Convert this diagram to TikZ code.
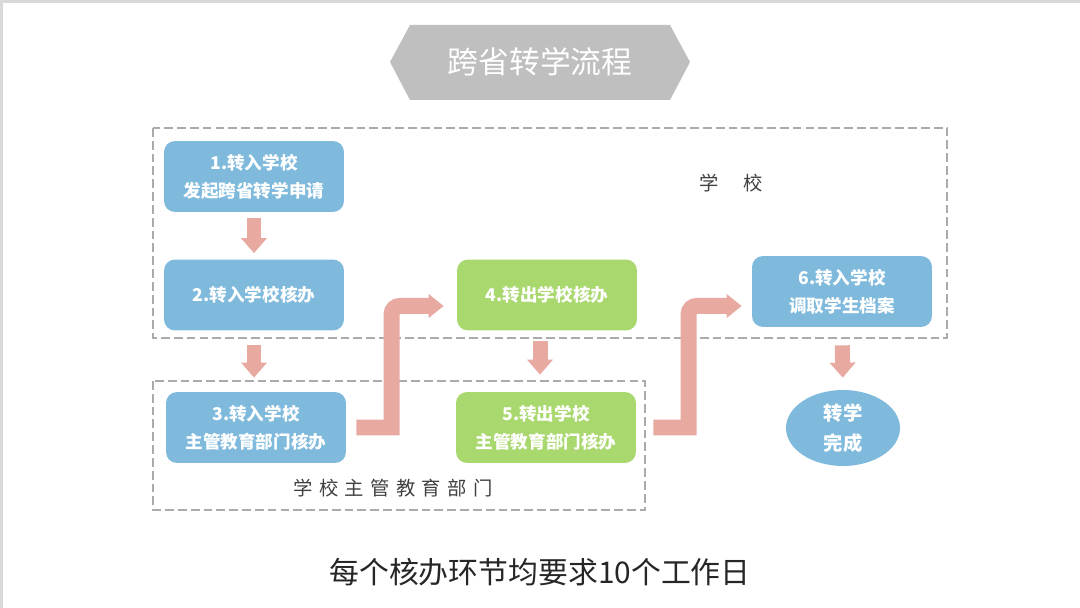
\documentclass[tikz,border=0pt]{standalone}
\usepackage{fontspec}
\setmainfont{Noto Sans CJK SC}
\newfontfamily\widecjk[LetterSpace=33]{Noto Sans CJK SC}
\usetikzlibrary{arrows.meta,shapes.geometric}
\definecolor{stepblue}{HTML}{7FBADD}
\definecolor{stepgreen}{HTML}{A9D86E}
\definecolor{flowpink}{HTML}{E8A9A1}
\definecolor{titlegray}{HTML}{BFBFBF}
\definecolor{dashgray}{HTML}{ABABAB}
\tikzset{
  stepbox/.style={rounded corners=0.22cm,minimum width=3.6cm,minimum height=1.42cm,
    inner sep=0pt,align=center,text=white,font=\bfseries\fontsize{10}{16}\selectfont},
  bluebox/.style={stepbox,fill=stepblue},
  greenbox/.style={stepbox,fill=stepgreen},
  down arrow/.style={draw=flowpink,line width=0.3cm,-{Triangle[width=0.5cm,length=0.3cm]}},
  turn arrow/.style={draw=flowpink,line width=0.32cm,
    -{Triangle[width=0.46cm,length=0.3cm]}},
  groupbox/.style={draw=dashgray,line width=1.1pt,dash pattern=on 5pt off 2.3pt}
}
\begin{document}
\begin{tikzpicture}[x=0.02cm,y=-0.02cm]
 \useasboundingbox (0,0) rectangle (1080,608);
 \draw[line width=3pt,color=black!15](0,608)--(0,0)--(1080,0);
 % title
 \fill[titlegray](390,62)--(410,25)--(670,25)--(690,62)--(670,100)--(410,100)--cycle;
 \node[text=white,font=\fontsize{17.5}{20}\selectfont] (title) at (540,62) {跨省转学流程};
 % groups
 \draw[groupbox](153,128) rectangle (947,338);
 \draw[groupbox](153,381) rectangle (645,510);
 \node[text=black!75,font=\fontsize{11}{13}\selectfont] (schoollbl) at (731,183) {学\hspace{1.25em}校};
 \node[text=black!75,font=\widecjk\fontsize{11}{13}\selectfont] (deptlbl) at (393,488) {学校主管教育部门};
 % steps
 \node[bluebox] (b1) at (254,176.5) {1.转入学校\\发起跨省转学申请};
 \node[bluebox] (b2) at (254,295) {2.转入学校核办};
 \node[bluebox] (b3) at (256,427.5) {3.转入学校\\主管教育部门核办};
 \node[greenbox] (b4) at (547,295) {4.转出学校核办};
 \node[greenbox] (b5) at (546,427.5) {5.转出学校\\主管教育部门核办};
 \node[bluebox] (b6) at (842,291.5) {6.转入学校\\调取学生档案};
 \node[ellipse,fill=stepblue,minimum width=2.28cm,minimum height=1.52cm,inner sep=0pt,
   align=center,text=white,font=\bfseries\fontsize{11}{17}\selectfont] (done) at (843,428) {转学\\完成};
 % arrows
 \draw[down arrow,shorten <=0.12cm,shorten >=0.12cm](b1.south)--(b2.north);
 \draw[down arrow,shorten <=0.28cm,shorten >=0.28cm](b2.south)--(b2.south|-b3.north);
 \draw[down arrow,shorten <=0.2cm,shorten >=0.34cm]([xshift=-0.14cm]b4.south)--([xshift=-0.14cm]b4.south|-b5.north);
 \draw[down arrow,shorten <=0.36cm,shorten >=0.24cm](b6.south)--(done.north);
 \draw[turn arrow]([xshift=0.2cm]b3.east) -| ([xshift=-1.3cm,yshift=-1.2cm]b4.west)
   [rounded corners=0.16cm] |- ([xshift=-0.26cm,yshift=-0.22cm]b4.west);
 \draw[turn arrow]([xshift=0.34cm]b5.east) -| ([xshift=-1.26cm,yshift=-1.2cm]b6.west)
   [rounded corners=0.16cm] |- ([xshift=-0.2cm,yshift=-0.29cm]b6.west);
 % note
 \node[text=black!85,font=\fontsize{17}{20}\selectfont] (note) at (540,572) {每个核办环节均要求10个工作日};
\end{tikzpicture}
\end{document}
